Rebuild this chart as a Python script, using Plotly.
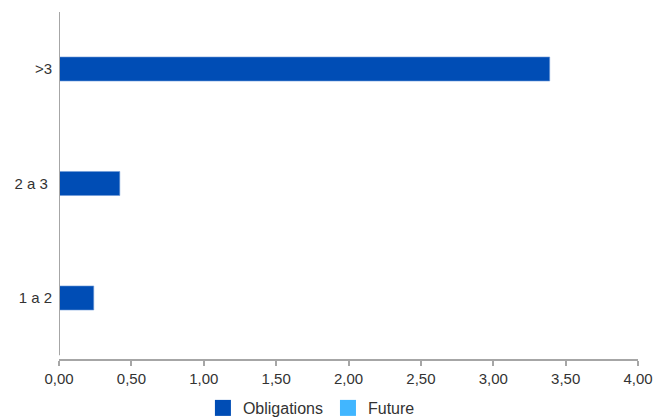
import plotly.graph_objects as go

categories = ["1 a 2", "2 a 3\u00a0", ">3"]
obligations = [0.24, 0.42, 3.39]
future = [0, 0, 0]
x_ticks = [0, 0.5, 1, 1.5, 2, 2.5, 3, 3.5, 4]
series_names = ["Obligations", "Future"]
series_colors = ["#004DB5", "#41B6FF"]

fig = go.Figure()
fig.add_trace(go.Bar(
    y=categories, x=obligations, orientation="h", name=series_names[0],
    marker=dict(color=series_colors[0], line=dict(color="#6F9BD8", width=0.6)),
    width=0.21, showlegend=False,
))
fig.add_trace(go.Bar(
    y=categories, x=future, orientation="h", name=series_names[1],
    marker=dict(color=series_colors[1], line=dict(width=0)),
    width=0.21, showlegend=False,
))
# legend entries with larger square swatches
for name, color in zip(series_names, series_colors):
    fig.add_trace(go.Scatter(
        x=[None], y=[None], mode="markers", name=name,
        marker=dict(symbol="square", size=16, color=color),
        showlegend=True,
    ))

fig.add_shape(type="line", xref="x", yref="y", x0=0, x1=0, y0=-0.5, y1=2.5,
              line=dict(color="#A6A6A6", width=2), layer="above")

fig.update_layout(
    width=657, height=417,
    margin=dict(l=59, r=19, t=12, b=58, autoexpand=False),
    paper_bgcolor="white", plot_bgcolor="white",
    barmode="overlay",
    separators=", ",
    font=dict(family="Liberation Sans, Arial, sans-serif", size=15, color="#333333"),
    xaxis=dict(
        range=[0, 4], tickvals=x_ticks, tickformat=".2f",
        showgrid=False, zeroline=False, automargin=False,
        showline=True, linecolor="#A6A6A6", linewidth=2,
        ticks="outside", ticklen=5, tickcolor="#A6A6A6", tickwidth=1.5,
        tickfont=dict(size=15, color="#333333"),
    ),
    yaxis=dict(
        range=[-0.533, 2.498], showgrid=False, zeroline=False, showline=False,
        ticks="", ticklabelstandoff=6, automargin=False,
        tickfont=dict(size=15, color="#333333"),
        categoryorder="array", categoryarray=categories,
    ),
    legend=dict(
        orientation="h", xref="container", yref="container",
        x=0.474, xanchor="center", y=0.0216, yanchor="middle",
        font=dict(size=16, color="#333333"), itemsizing="trace",
        traceorder="normal", bgcolor="rgba(0,0,0,0)",
    ),
    showlegend=True,
)

fig.write_html(
    "out.html",
    config={"displayModeBar": False},
    post_script="document.body.style.margin='0';document.body.style.overflow='hidden';",
)
